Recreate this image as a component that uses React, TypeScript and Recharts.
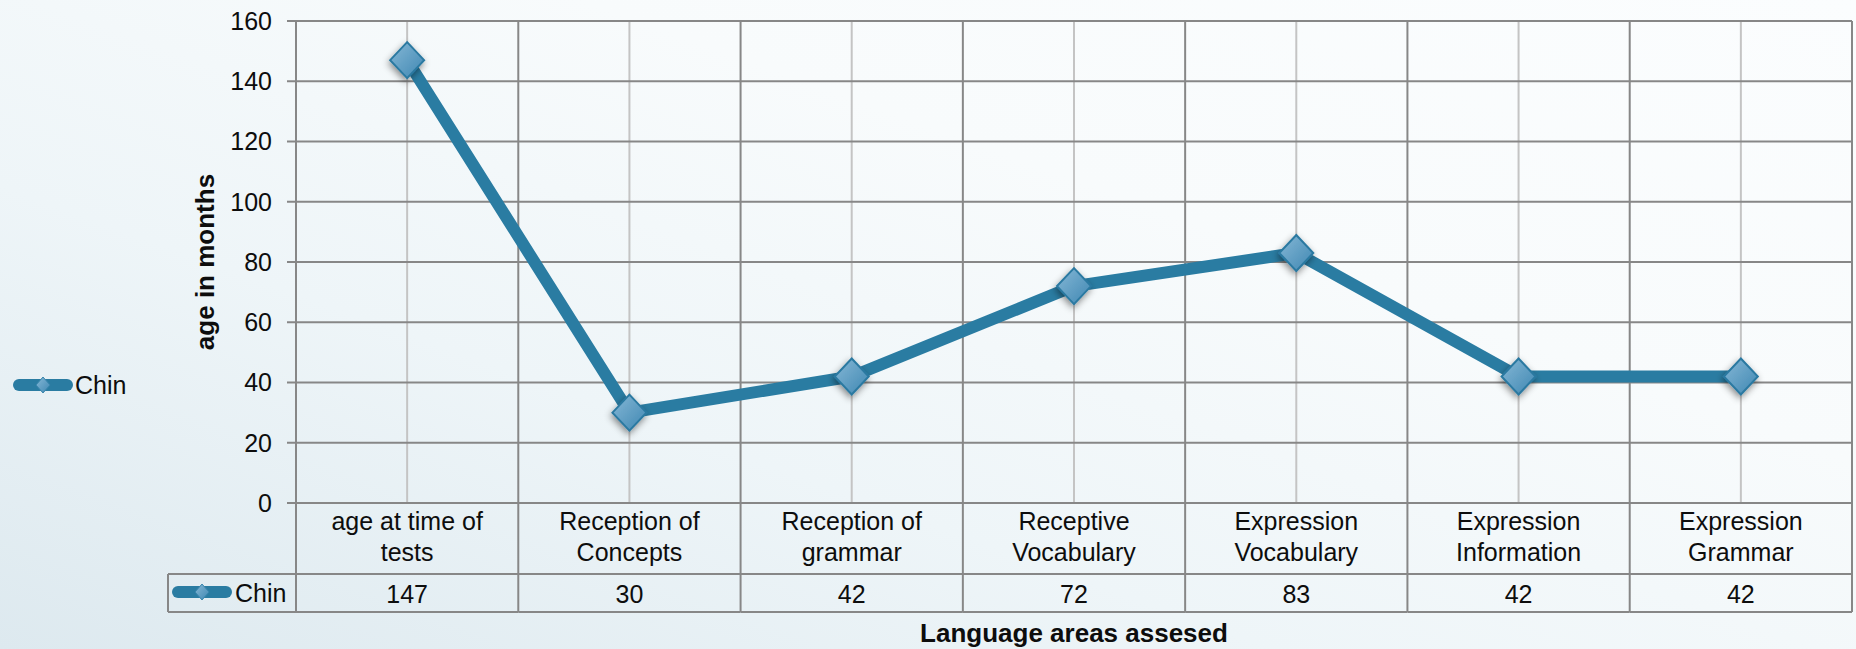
import React from "react";
import { ComposedChart, Line, XAxis, YAxis, CartesianGrid, Legend } from "recharts";

// category labels as they are wrapped in the table under the chart
const categoryLines = [
  ["age at time of", "tests"],
  ["Reception of", "Concepts"],
  ["Reception of", "grammar"],
  ["Receptive", "Vocabulary"],
  ["Expression", "Vocabulary"],
  ["Expression", "Information"],
  ["Expression", "Grammar"],
];
const categories = categoryLines.map((l) => l.join(" "));
const chinValues = [147, 30, 42, 72, 83, 42, 42];
const yTicks = [0, 20, 40, 60, 80, 100, 120, 140, 160];
const seriesName = "Chin";

const data = categories.map((area, i) => ({ area, chin: chinValues[i] }));

const W = 1856;
const H = 649;
const MARGIN = { top: 21, right: 4, left: 186, bottom: 0 };
const Y_W = 110;
const X_H = 146;
const PLOT_W = W - MARGIN.left - Y_W - MARGIN.right;
const BAND = PLOT_W / categories.length;
const ROW1 = 71; // bottom of the label row
const ROW2 = 109; // bottom of the value row
const KEY_W = 128;

const FONT = '"Liberation Sans", Arial, sans-serif';
const GRID = "#878787";
const LIGHT = "#c4c4c4";
const LINE = "#2a7ca2";
const TEXT = "#0d0d0d";

function KeyIcon({ x, y }: { x: number; y: number }) {
  return (
    <g>
      <line x1={x + 6} y1={y} x2={x + 54} y2={y} stroke={LINE} strokeWidth={12} strokeLinecap="round" />
      <polygon
        points={`${x + 30},${y - 8} ${x + 37},${y} ${x + 30},${y + 8} ${x + 23},${y}`}
        fill="url(#dmdFill)"
        stroke="#3a86ad"
        strokeWidth={1}
      />
    </g>
  );
}

function Diamond(props: any) {
  const { cx, cy } = props;
  if (cx == null || cy == null) return null;
  const w = 17;
  const h = 18;
  return (
    <polygon
      points={`${cx},${cy - h} ${cx + w},${cy} ${cx},${cy + h} ${cx - w},${cy}`}
      fill="url(#dmdFill)"
      stroke="#2b79a1"
      strokeWidth={2}
      filter="url(#dmdShadow)"
    />
  );
}

function AreaTick(props: any) {
  const { x, y, index, payload } = props;
  const left = x - BAND / 2;
  const right = x + BAND / 2;
  const lines = categoryLines[index] ?? [String(payload.value)];
  return (
    <g>
      <line x1={right} y1={y} x2={right} y2={y + ROW2} stroke={GRID} strokeWidth={2} />
      {index === 0 && <line x1={left} y1={y} x2={left} y2={y + ROW2} stroke={GRID} strokeWidth={2} />}
      <line x1={left} y1={y + ROW1} x2={right} y2={y + ROW1} stroke={GRID} strokeWidth={2} />
      <line x1={left} y1={y + ROW2} x2={right} y2={y + ROW2} stroke={GRID} strokeWidth={2} />
      {lines.map((t: string, i: number) => (
        <text key={i} x={x} y={y + 27 + i * 31} textAnchor="middle" fontSize={25} fill={TEXT} fontFamily={FONT}>
          {t}
        </text>
      ))}
      <text x={x} y={y + 100} textAnchor="middle" fontSize={25} fill={TEXT} fontFamily={FONT}>
        {chinValues[index]}
      </text>
      {index === 0 && (
        <g>
          <line x1={left - KEY_W} y1={y + ROW1} x2={left} y2={y + ROW1} stroke={GRID} strokeWidth={2} />
          <line x1={left - KEY_W} y1={y + ROW2} x2={left} y2={y + ROW2} stroke={GRID} strokeWidth={2} />
          <line x1={left - KEY_W} y1={y + ROW1} x2={left - KEY_W} y2={y + ROW2} stroke={GRID} strokeWidth={2} />
          <KeyIcon x={left - KEY_W + 4} y={y + 89} />
          <text x={left - KEY_W + 67} y={y + 99} fontSize={25} fill={TEXT} fontFamily={FONT}>
            {seriesName}
          </text>
        </g>
      )}
    </g>
  );
}

const yTitle = (p: any) => {
  const vb = p.viewBox;
  const cx = vb.x + 19;
  const cy = vb.y + vb.height / 2;
  return (
    <text
      x={cx}
      y={cy}
      transform={`rotate(-90 ${cx} ${cy})`}
      textAnchor="middle"
      dominantBaseline="central"
      fontSize={26}
      fontWeight={700}
      fill={TEXT}
      fontFamily={FONT}
    >
      age in months
    </text>
  );
};

const xTitle = (p: any) => {
  const vb = p.viewBox;
  return (
    <text
      x={vb.x + vb.width / 2}
      y={vb.y + vb.height - 7}
      textAnchor="middle"
      fontSize={26}
      fontWeight={700}
      fill={TEXT}
      fontFamily={FONT}
    >
      Language areas assesed
    </text>
  );
};

const legendContent = (p: any) => (
  <svg width={140} height={50}>
    {(p.payload || []).map((entry: any) => (
      <g key={entry.value}>
        <KeyIcon x={13} y={25} />
        <text x={75} y={34} fontSize={25} fill={TEXT} fontFamily={FONT}>
          {entry.value}
        </text>
      </g>
    ))}
  </svg>
);

export default function App() {
  return (
    <div
      style={{
        position: "absolute",
        left: 0,
        top: 0,
        width: W,
        height: H,
        fontFamily: FONT,
        background: "linear-gradient(20deg, #dde9ef 0%, #eef5f8 35%, #f8fbfc 65%, #fbfdfe 100%)",
      }}
    >
      <ComposedChart width={W} height={H} data={data} margin={MARGIN}>
        <defs>
          <linearGradient id="dmdFill" x1="0" y1="0" x2="1" y2="1">
            <stop offset="0%" stopColor="#86b8d6" />
            <stop offset="100%" stopColor="#3f87b2" />
          </linearGradient>
          <filter id="dmdShadow" x="-60%" y="-60%" width="220%" height="220%">
            <feDropShadow dx={-1} dy={3} stdDeviation={3.5} floodColor="#000" floodOpacity={0.45} />
          </filter>
        </defs>
        <CartesianGrid vertical={true} horizontal={false} stroke={LIGHT} strokeWidth={2} />
        <CartesianGrid
          horizontal={false}
          stroke={GRID}
          strokeWidth={2}
          verticalCoordinatesGenerator={({ offset }: any) =>
            categories.map((_, i) => offset.left + ((i + 1) * offset.width) / categories.length)
          }
        />
        <CartesianGrid vertical={false} stroke={GRID} strokeWidth={2} />
        <XAxis
          dataKey="area"
          height={X_H}
          interval={0}
          padding={{ left: BAND / 2, right: BAND / 2 }}
          tickLine={false}
          tickSize={0}
          tickMargin={0}
          axisLine={{ stroke: GRID, strokeWidth: 2 }}
          tick={AreaTick}
          label={xTitle}
        />
        <YAxis
          width={Y_W}
          type="number"
          domain={[0, 160]}
          ticks={yTicks}
          tickSize={9}
          tickMargin={15}
          axisLine={{ stroke: GRID, strokeWidth: 2 }}
          tickLine={{ stroke: GRID, strokeWidth: 2 }}
          tick={{ fill: TEXT, fontSize: 25, fontFamily: FONT }}
          label={yTitle}
        />
        <Legend
          layout="horizontal"
          align="center"
          verticalAlign="middle"
          wrapperStyle={{ left: 0, top: 360, width: 140, height: 50 }}
          content={legendContent}
        />
        <Line
          type="linear"
          dataKey="chin"
          name={seriesName}
          stroke={LINE}
          strokeWidth={12}
          strokeLinejoin="round"
          dot={<Diamond />}
          activeDot={false}
          isAnimationActive={false}
        />
      </ComposedChart>
    </div>
  );
}
